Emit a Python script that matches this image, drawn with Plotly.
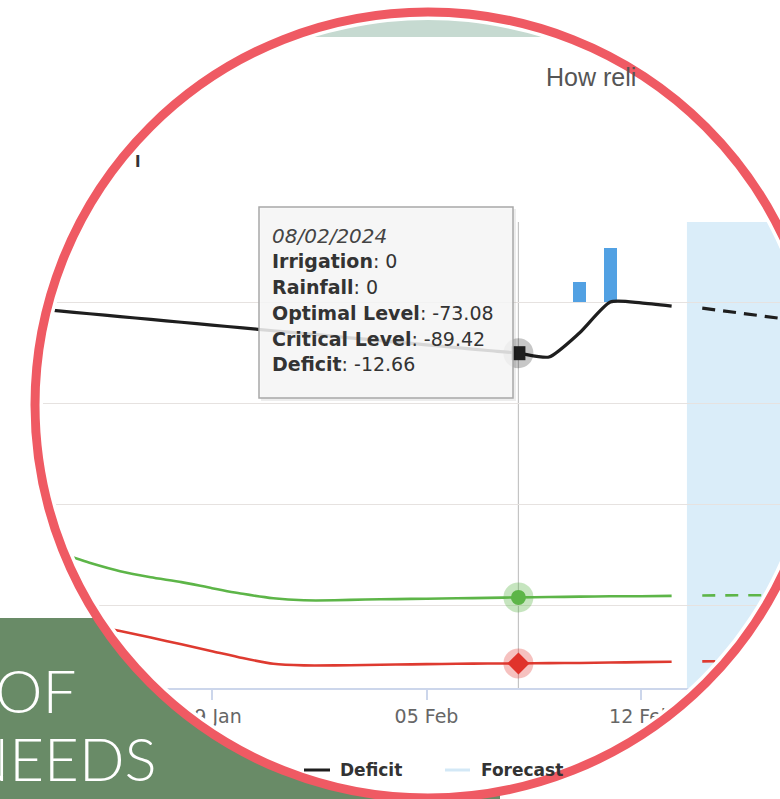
import numpy as np
import pandas as pd
import plotly.graph_objects as go

W, H = 780, 799

# ---------------- data ----------------
dates = list(pd.date_range("2024-01-23", "2024-02-13", freq="D"))
deficit = [-1.5, -2.2, -2.9, -3.6, -4.3, -5.0, -5.7, -6.4, -7.1, -7.8, -8.5,
           -9.2, -9.9, -10.6, -11.3, -12.0, -12.66, -13.6, -7.6, 0.0, -0.2, -1.0]
optimal = [-60.0, -62.1, -64.5, -66.6, -68.1, -69.3, -70.8, -72.2, -73.3, -73.8, -73.8,
           -73.6, -73.5, -73.4, -73.3, -73.2, -73.08, -73.0, -72.9, -72.8, -72.8, -72.7]
critical = [-77.5, -78.7, -80.0, -81.4, -83.0, -84.7, -86.4, -88.1, -89.5, -89.9, -89.9,
            -89.8, -89.7, -89.6, -89.5, -89.45, -89.42, -89.35, -89.3, -89.2, -89.1, -89.0]

fc_dates = list(pd.date_range("2024-02-14", "2024-02-17", freq="D"))
deficit_fc = [-1.5, -2.5, -3.5, -4.5]
optimal_fc = [-72.6, -72.6, -72.5, -72.5]
critical_fc = [-88.9, -88.9, -88.8, -88.8]

rain_dates = [pd.Timestamp("2024-02-10"), pd.Timestamp("2024-02-11")]
rainfall = [5.0, 13.4]

hover_idx = 16  # 08 Feb 2024
tooltip_lines = ["<i>08/02/2024</i>", "<b>Irrigation</b>: 0", "<b>Rainfall</b>: 0",
                 "<b>Optimal Level</b>: -73.08", "<b>Critical Level</b>: -89.42",
                 "<b>Deficit</b>: -12.66"]
tick_start = "2024-01-29"
forecast_start = pd.Timestamp("2024-02-13 12:00")

# ---------------- geometry helpers (window pixels -> paper) ----------------
def px(x):
    return x / W

def py(y):
    return 1 - y / H

CX, CY, R = 428, 405, 393
RIN = 385

day_px = 30.64
ref_day = pd.Timestamp("2024-02-05")
ref_px = 426.5
x_start = ref_day - pd.Timedelta(days=ref_px / day_px)
x_end = ref_day + pd.Timedelta(days=(W - ref_px) / day_px)

PLOT_TOP, PLOT_BOT = 222, 688

fig = go.Figure()

# rainfall bars
fig.add_trace(go.Bar(x=rain_dates, y=rainfall, width=0.42 * 86400000,
                     marker=dict(color="#52A1E3", line=dict(width=0)), showlegend=False))

# series lines
fig.add_trace(go.Scatter(x=dates, y=optimal, mode="lines",
                         line=dict(color="#5DB548", width=2.6, shape="spline", smoothing=0.6)))
fig.add_trace(go.Scatter(x=dates, y=critical, mode="lines",
                         line=dict(color="#DE3A30", width=2.6, shape="spline", smoothing=0.6)))
fig.add_trace(go.Scatter(x=dates, y=deficit, mode="lines",
                         line=dict(color="#1E1E1E", width=3.2, shape="spline", smoothing=0.6)))
fig.add_trace(go.Scatter(x=fc_dates, y=optimal_fc, mode="lines",
                         line=dict(color="#5DB548", width=2.6, dash="13px,10px")))
fig.add_trace(go.Scatter(x=fc_dates, y=critical_fc, mode="lines",
                         line=dict(color="#DE3A30", width=2.6, dash="13px,10px")))
fig.add_trace(go.Scatter(x=fc_dates, y=deficit_fc, mode="lines",
                         line=dict(color="#1E1E1E", width=3.2, dash="13px,8px")))

# hover markers with halos
hx = [dates[hover_idx]]
for val, col, halo, sym, sz in [
    (deficit[hover_idx], "#1E1E1E", "rgba(0,0,0,0.22)", "square", 14),
    (optimal[hover_idx], "#5DB548", "rgba(93,181,72,0.35)", "circle", 15),
    (critical[hover_idx], "#E0332B", "rgba(224,51,43,0.30)", "diamond", 17),
]:
    fig.add_trace(go.Scatter(x=hx, y=[val], mode="markers",
                             marker=dict(size=30, color=halo, symbol="circle", line=dict(width=0))))
    fig.add_trace(go.Scatter(x=hx, y=[val], mode="markers",
                             marker=dict(size=sz, color=col, symbol=sym, line=dict(width=0))))

shapes = []
# forecast band
shapes.append(dict(type="rect", xref="x", yref="y domain", x0=forecast_start,
                   x1=x_end + pd.Timedelta(days=2), y0=0, y1=1,
                   fillcolor="#DAEDF9", line=dict(width=0), layer="below"))
# crosshair
shapes.append(dict(type="line", xref="x", yref="y domain", x0=dates[hover_idx],
                   x1=dates[hover_idx], y0=0, y1=1,
                   line=dict(color="#C4C4C4", width=1.2), layer="below"))
# header band (top of app, visible inside lens)
shapes.append(dict(type="rect", xref="paper", yref="paper", x0=-0.05, x1=1.05, y0=py(37), y1=1.05,
                   fillcolor="#C6DAD1", line=dict(width=0), layer="above"))

# tooltip box
shapes.append(dict(type="rect", xref="paper", yref="paper", x0=px(261), x1=px(516),
                   y0=py(401), y1=py(209), fillcolor="rgba(0,0,0,0.07)",
                   line=dict(width=0), layer="above"))
shapes.append(dict(type="rect", xref="paper", yref="paper", x0=px(259), x1=px(513),
                   y0=py(398), y1=py(207), fillcolor="rgba(247,247,247,0.86)",
                   line=dict(color="#A8A8A8", width=1.5), layer="above"))

# white mask outside the lens
t = np.linspace(0, 2 * np.pi, 241)
outer = (f"M {px(-60)},{py(-60)} L {px(860)},{py(-60)} L {px(860)},{py(880)} "
         f"L {px(-60)},{py(880)} Z ")
circ = "M " + " L ".join(f"{px(CX + RIN*np.cos(a)):.5f},{py(CY + RIN*np.sin(a)):.5f}" for a in t) + " Z"
shapes.append(dict(type="path", xref="paper", yref="paper", path=outer + circ,
                   fillcolor="white", fillrule="evenodd", line=dict(width=0), layer="above"))

# green block bottom-left (outside the lens)
GR = R - 1
top_y, right_x = 618, 500
t1 = np.pi - np.arcsin((top_y - CY) / GR)
t2 = np.arccos((right_x - CX) / GR)
arc = np.linspace(t1, t2, 80)
pts = [(-10, 820), (-10, top_y)] + [(CX + GR*np.cos(a), CY + GR*np.sin(a)) for a in arc] + [(right_x, 820)]
gpath = "M " + " L ".join(f"{px(a):.5f},{py(b):.5f}" for a, b in pts) + " Z"
shapes.append(dict(type="path", xref="paper", yref="paper", path=gpath,
                   fillcolor="#698B67", line=dict(width=0), layer="above"))

# lens ring
shapes.append(dict(type="circle", xref="paper", yref="paper", x0=px(CX-R), x1=px(CX+R),
                   y0=py(CY+R), y1=py(CY-R), line=dict(color="#EF5A63", width=9),
                   fillcolor="rgba(0,0,0,0)", layer="above"))

# legend marks
shapes.append(dict(type="line", xref="paper", yref="paper", x0=px(304), x1=px(330),
                   y0=py(770), y1=py(770), line=dict(color="#1E1E1E", width=3), layer="above"))
shapes.append(dict(type="line", xref="paper", yref="paper", x0=px(445), x1=px(470),
                   y0=py(770), y1=py(770), line=dict(color="#D3E8F6", width=3), layer="above"))

annotations = []
for i, line in enumerate(tooltip_lines):
    yy = [236, 261, 287, 313, 339, 364][i]
    annotations.append(dict(xref="paper", yref="paper", x=px(270), y=py(yy), xanchor="left",
                            yanchor="middle", showarrow=False, text=line,
                            font=dict(family="DejaVu Sans", size=19 if i else 20,
                                      color="#333333" if i else "#444444")))
annotations.append(dict(xref="paper", yref="paper", x=px(338), y=py(770), xanchor="left",
                        yanchor="middle", showarrow=False, text="<b>Deficit</b>",
                        font=dict(family="DejaVu Sans", size=17, color="#333333")))
annotations.append(dict(xref="paper", yref="paper", x=px(479), y=py(770), xanchor="left",
                        yanchor="middle", showarrow=False, text="<b>Forecast</b>",
                        font=dict(family="DejaVu Sans", size=17, color="#333333")))
annotations.append(dict(xref="paper", yref="paper", x=px(544), y=py(77), xanchor="left",
                        yanchor="middle", showarrow=False, text="How reli",
                        font=dict(family="Liberation Sans", size=25, color="#555555")))
annotations.append(dict(xref="paper", yref="paper", x=px(133), y=py(161), xanchor="left",
                        yanchor="middle", showarrow=False, text="<b>l</b>",
                        font=dict(family="DejaVu Sans", size=16, color="#333333")))
annotations.append(dict(xref="paper", yref="paper", x=px(-7), y=py(690), xanchor="left",
                        yanchor="middle", showarrow=False, text="OF",
                        font=dict(family="Lato", size=60, color="white", weight=300)))
annotations.append(dict(xref="paper", yref="paper", x=px(-38), y=py(758), xanchor="left",
                        yanchor="middle", showarrow=False, text="NEEDS",
                        font=dict(family="Lato", size=60, color="white", weight=300)))

fig.update_layout(
    width=W, height=H, margin=dict(l=0, r=0, t=0, b=0, pad=0),
    paper_bgcolor="white", plot_bgcolor="white", showlegend=False,
    shapes=shapes, annotations=annotations, bargap=0,
    xaxis=dict(type="date", range=[x_start, x_end], domain=[0, 1],
               tickmode="linear", tick0=tick_start, dtick=7 * 86400000, tickformat="%d %b",
               ticks="outside", ticklen=10, tickwidth=1.5, tickcolor="#CCD6EB",
               showline=True, linecolor="#CCD6EB", linewidth=1.5, showgrid=False,
               zeroline=False, automargin=False,
               tickfont=dict(family="DejaVu Sans", size=19, color="#666666")),
    yaxis=dict(range=[-95.5, 19.8], domain=[py(PLOT_BOT), py(PLOT_TOP)],
               tickvals=[0, -25, -50, -75], showticklabels=False, showgrid=True,
               gridcolor="#E6E2E0", gridwidth=1.2, zeroline=False, automargin=False),
)

fig.write_html("out.html", config={"displayModeBar": False},
               post_script="document.body.style.margin='0';document.body.style.overflow='hidden';")
